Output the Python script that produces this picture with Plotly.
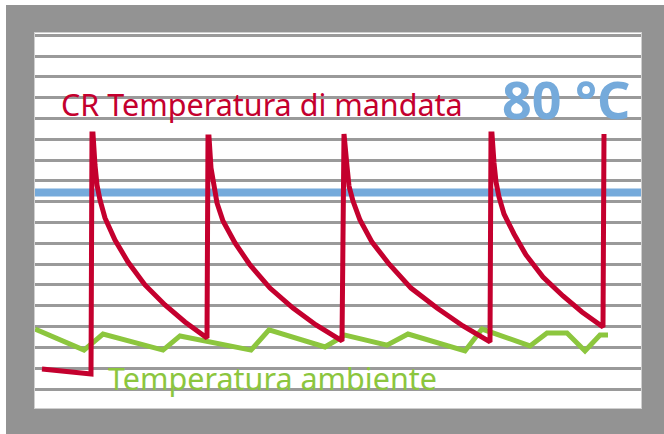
import plotly.graph_objects as go

# ---- data (x: time units, y: grid units, bottom grid line = 0) ----
red_x = [7, 56, 57,
         58, 60, 62, 65, 70, 80, 93, 110, 130, 150, 172,
         173,
         174, 176, 179, 182, 188, 200, 215, 235, 258, 281, 307,
         308,
         309, 312, 314, 318, 325, 337, 354, 376, 402, 428, 455,
         456,
         457, 459, 461, 464, 469, 479, 491, 508, 528, 547, 568,
         569]
red_y = [0.96, 0.72, 12.25,
         12.25, 10.76, 9.80, 9.08, 8.22, 7.16, 6.10, 5.00, 4.04, 3.22, 2.45,
         12.11,
         12.11, 10.62, 9.66, 8.94, 8.07, 7.02, 5.96, 4.85, 3.89, 3.08, 2.31,
         12.25,
         12.25, 10.71, 9.75, 9.03, 8.12, 7.06, 6.01, 4.85, 3.89, 3.03, 2.26,
         12.25,
         12.25, 10.86, 9.95, 9.23, 8.41, 7.45, 6.44, 5.38, 4.47, 3.70, 2.98,
         12.25]

green_x = [0, 49, 68, 128, 145, 216, 234, 290, 310, 352, 373, 430, 447, 495, 512, 532, 550, 565, 573]
green_y = [2.88, 1.87, 2.64, 1.87, 2.55, 1.87, 2.84, 2.02, 2.59, 2.11, 2.64, 1.83, 2.88, 2.07, 2.69, 2.69, 1.83, 2.59, 2.59]

setpoint_x = [0, 606]
setpoint_y = [9.44, 9.44]

label_red = "CR Temperatura di mandata"
label_green = "Temperatura ambiente"
label_setpoint = "80 °C"

RED = "#c4002e"
GREEN = "#8cc63e"
BLUE = "#75aadb"
GRAY = "#939393"

fig = go.Figure()
fig.add_trace(go.Scatter(x=setpoint_x, y=setpoint_y, mode="lines",
                         line=dict(color=BLUE, width=8), hoverinfo="skip"))
fig.add_trace(go.Scatter(x=green_x, y=green_y, mode="lines",
                         line=dict(color=GREEN, width=5), hoverinfo="skip"))
fig.add_trace(go.Scatter(x=red_x, y=red_y, mode="lines",
                         line=dict(color=RED, width=5), hoverinfo="skip"))

fig.add_annotation(x=24, y=13.68, xref="x", yref="y", text=label_red,
                   showarrow=False, xanchor="left", yanchor="middle",
                   font=dict(family="Noto Sans", size=30.5, color=RED))
fig.add_annotation(x=71, y=0.55, xref="x", yref="y", text=label_green,
                   showarrow=False, xanchor="left", yanchor="middle",
                   font=dict(family="Noto Sans", size=30.5, color=GREEN))
fig.add_annotation(x=597, y=13.94, xref="x", yref="y", text="<b>" + label_setpoint + "</b>",
                   showarrow=False, xanchor="right", yanchor="middle",
                   font=dict(family="Noto Sans", size=52, color=BLUE))

# white strips along top and left edges of the page
fig.add_shape(type="rect", xref="paper", yref="paper",
              x0=-0.06, x1=(6 - 35) / 606, y0=-0.1, y1=1.1,
              fillcolor="white", line_width=0, layer="above")
fig.add_shape(type="rect", xref="paper", yref="paper",
              x0=-0.06, x1=1.1, y0=(408 - 5) / 375, y1=1.1,
              fillcolor="white", line_width=0, layer="above")

fig.update_xaxes(range=[0, 606], showgrid=False, zeroline=False,
                 showticklabels=False, ticks="", showline=True,
                 linecolor="#cfcfcf", linewidth=1, mirror=True)
fig.update_yaxes(range=[-0.913, 17.107], tick0=0, dtick=1, showgrid=True,
                 gridcolor="#9a9a9a", gridwidth=3, zeroline=False,
                 showticklabels=False, ticks="", showline=True,
                 linecolor="#cfcfcf", linewidth=1, mirror=True)

fig.update_layout(width=664, height=434,
                  margin=dict(l=35, r=23, t=33, b=26),
                  paper_bgcolor=GRAY, plot_bgcolor="white",
                  showlegend=False, hovermode=False)

fig.write_html("out.html", config={"displayModeBar": False},
               post_script="document.body.style.margin='0px';")
